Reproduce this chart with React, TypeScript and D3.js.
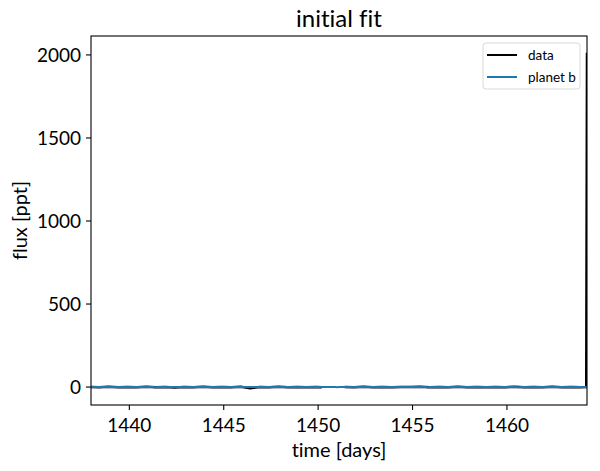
import { useEffect, useRef } from "react";
import * as d3 from "d3";

// Light curve: flat around zero, gap mid-sector,
// one big outlier in the last cadence.
const DATA_TIME = [
  1437.97, 1438.4, 1438.9, 1439.4, 1439.9, 1440.4, 1440.9, 1441.4, 1441.9, 1442.4,
  1442.9, 1443.4, 1443.9, 1444.4, 1444.9, 1445.4, 1445.9, 1446.4, 1446.9, 1447.4,
  1447.9, 1448.4, 1448.9, 1449.4, 1449.9, 1450.2,
  1450.8,
  1451.4, 1451.9, 1452.4, 1452.9, 1453.4, 1453.9, 1454.4, 1454.9, 1455.4, 1455.9,
  1456.4, 1456.9, 1457.4, 1457.9, 1458.4, 1458.9, 1459.4, 1459.9, 1460.4, 1460.9,
  1461.4, 1461.9, 1462.4, 1462.9, 1463.4, 1463.9, 1464.2, 1464.24,
];
const DATA_FLUX = [
  0.8, -1.0, 1.2, -1.5, 0.5, -0.8, 1.5, -1.2, 0.3, -2.0,
  1.0, -0.5, 2.0, -1.8, 0.8, -1.0, 1.2, -7.0, 0.5, -0.8,
  1.8, -1.0, 0.3, -1.5, 1.0, -0.5,
  NaN,
  0.5, -1.2, 1.5, -0.8, 1.0, -1.5, 0.8, -0.3, 1.2, -1.0,
  0.5, -1.8, 2.0, -0.5, 1.0, -1.2, 0.3, -0.8, 1.5, -1.0,
  0.8, -1.5, 1.2, -0.5, 0.5, -1.0, 0.3, 2013,
];

// planet b model: flat with shallow transits
const MODEL_TIME = [
  1437.97, 1441.3, 1441.4, 1441.5, 1446.1, 1446.2, 1446.3, 1450.9, 1451.0, 1451.1,
  1455.7, 1455.8, 1455.9, 1460.5, 1460.6, 1460.7, 1464.24,
];
const MODEL_FLUX = [
  0, 0, -1.2, 0, 0, -1.2, 0, 0, -1.2, 0,
  0, -1.2, 0, 0, -1.2, 0, 0,
];

const X_TICKS = [1440, 1445, 1450, 1455, 1460];
const Y_TICKS = [0, 500, 1000, 1500, 2000];

const TITLE = "initial fit";
const X_LABEL = "time [days]";
const Y_LABEL = "flux [ppt]";
const LEGEND = [
  { label: "data", color: "#000000" },
  { label: "planet b", color: "#1f77b4" },
];

const W = 600;
const H = 471;
const PLOT = { left: 91, right: 587, top: 36, bottom: 405 };
const FONT = "Lato, 'DejaVu Sans', sans-serif";

export default function App() {
  const svgRef = useRef<SVGSVGElement>(null);

  useEffect(() => {
    document.body.style.margin = "0";
    const svg = d3.select(svgRef.current);
    svg.selectAll("*").remove();

    const [yMin, yMax] = d3.extent(DATA_FLUX.filter((v) => !Number.isNaN(v))) as [number, number];
    const pad = (yMax - yMin) * 0.05;

    const x = d3
      .scaleLinear()
      .domain([DATA_TIME[0], DATA_TIME[DATA_TIME.length - 1]])
      .range([PLOT.left, PLOT.right]);
    const y = d3
      .scaleLinear()
      .domain([yMin - pad, yMax + pad])
      .range([PLOT.bottom, PLOT.top]);

    svg.append("rect").attr("width", W).attr("height", H).attr("fill", "#fff");

    const clip = svg.append("clipPath").attr("id", "plot-clip");
    clip
      .append("rect")
      .attr("x", PLOT.left)
      .attr("y", PLOT.top)
      .attr("width", PLOT.right - PLOT.left)
      .attr("height", PLOT.bottom - PLOT.top);

    const g = svg.append("g").attr("clip-path", "url(#plot-clip)");

    const dataLine = d3
      .line<number>()
      .defined((d) => !Number.isNaN(d))
      .x((_, i) => x(DATA_TIME[i]))
      .y((d) => y(d));
    g.append("path")
      .attr("d", dataLine(DATA_FLUX))
      .attr("fill", "none")
      .attr("stroke", "#000")
      .attr("stroke-width", 2.5);

    const modelLine = d3
      .line<number>()
      .x((_, i) => x(MODEL_TIME[i]))
      .y((d) => y(d));
    g.append("path")
      .attr("d", modelLine(MODEL_FLUX))
      .attr("fill", "none")
      .attr("stroke", "#1f77b4")
      .attr("stroke-width", 2);

    // frame
    svg
      .append("rect")
      .attr("x", PLOT.left)
      .attr("y", PLOT.top)
      .attr("width", PLOT.right - PLOT.left)
      .attr("height", PLOT.bottom - PLOT.top)
      .attr("fill", "none")
      .attr("stroke", "#000")
      .attr("stroke-width", 1.1);

    const text = (sel: d3.Selection<SVGTextElement, unknown, null, undefined>, size: number) =>
      sel
        .attr("font-family", FONT)
        .attr("font-size", size)
        .attr("fill", "#000")
        .style("font-variant-ligatures", "none");

    // x ticks
    X_TICKS.forEach((t) => {
      svg
        .append("line")
        .attr("x1", x(t))
        .attr("x2", x(t))
        .attr("y1", PLOT.bottom)
        .attr("y2", PLOT.bottom + 5)
        .attr("stroke", "#000")
        .attr("stroke-width", 1.1);
      text(
        svg
          .append("text")
          .attr("x", x(t))
          .attr("y", PLOT.bottom + 27)
          .attr("text-anchor", "middle"),
        19,
      ).text(t);
    });

    // y ticks
    Y_TICKS.forEach((t) => {
      svg
        .append("line")
        .attr("x1", PLOT.left - 5)
        .attr("x2", PLOT.left)
        .attr("y1", y(t))
        .attr("y2", y(t))
        .attr("stroke", "#000")
        .attr("stroke-width", 1.1);
      text(
        svg
          .append("text")
          .attr("x", PLOT.left - 10)
          .attr("y", y(t))
          .attr("dy", "0.36em")
          .attr("text-anchor", "end"),
        19,
      ).text(t);
    });

    // title + axis labels
    const cx = (PLOT.left + PLOT.right) / 2;
    text(svg.append("text").attr("x", cx).attr("y", 27).attr("text-anchor", "middle"), 24).text(TITLE);
    text(svg.append("text").attr("x", cx).attr("y", 457).attr("text-anchor", "middle"), 20).text(X_LABEL);
    text(
      svg
        .append("text")
        .attr("transform", `translate(27,${(PLOT.top + PLOT.bottom) / 2}) rotate(-90)`)
        .attr("text-anchor", "middle"),
      20,
    ).text(Y_LABEL);

    // legend
    const lg = svg.append("g").attr("transform", "translate(483,43)");
    lg.append("rect")
      .attr("width", 97)
      .attr("height", 46)
      .attr("rx", 3)
      .attr("fill", "#fff")
      .attr("fill-opacity", 0.8)
      .attr("stroke", "#d9d9d9")
      .attr("stroke-width", 1);
    LEGEND.forEach((item, i) => {
      const ly = 12 + i * 22;
      lg.append("line")
        .attr("x1", 4)
        .attr("x2", 34)
        .attr("y1", ly)
        .attr("y2", ly)
        .attr("stroke", item.color)
        .attr("stroke-width", 2);
      text(lg.append("text").attr("x", 45).attr("y", ly).attr("dy", "0.35em"), 13.5).text(item.label);
    });
  }, []);

  return (
    <svg
      ref={svgRef}
      width={W}
      height={H}
      style={{ display: "block", position: "absolute", left: 0, top: 0 }}
    />
  );
}
